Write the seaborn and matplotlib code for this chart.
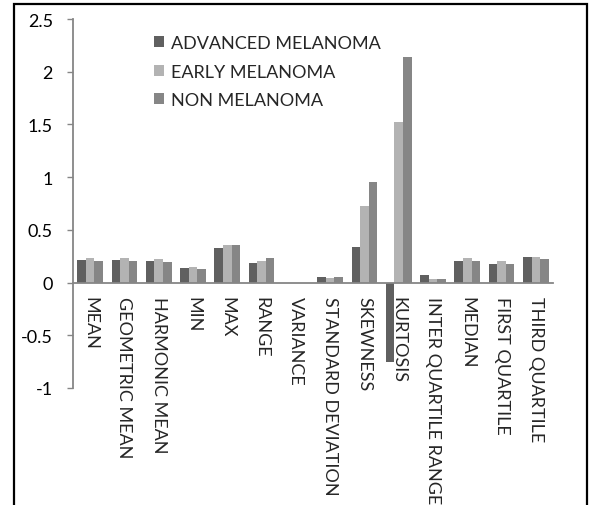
import matplotlib
matplotlib.use("Agg")
import matplotlib.pyplot as plt
import seaborn as sns
import pandas as pd
from matplotlib.patches import Rectangle

categories = ["MEAN", "GEOMETRIC MEAN", "HARMONIC MEAN", "MIN", "MAX", "RANGE",
              "VARIANCE", "STANDARD DEVIATION", "SKEWNESS", "KURTOSIS",
              "INTER QUARTILE RANGE", "MEDIAN", "FIRST QUARTILE", "THIRD QUARTILE"]
series_names = ["ADVANCED MELANOMA", "EARLY MELANOMA", "NON MELANOMA"]
advanced = [0.215, 0.21, 0.203, 0.139, 0.326, 0.184, 0.0, 0.057, 0.342, -0.75,
            0.07, 0.209, 0.174, 0.247]
early = [0.237, 0.232, 0.228, 0.149, 0.357, 0.209, 0.0, 0.046, 0.725, 1.519,
         0.037, 0.231, 0.209, 0.247]
non = [0.209, 0.203, 0.196, 0.127, 0.357, 0.237, 0.0, 0.051, 0.953, 2.14,
       0.037, 0.206, 0.18, 0.222]
y_ticks = [-1, -0.5, 0, 0.5, 1, 1.5, 2, 2.5]
y_tick_labels = ["-1", "-0.5", "0", "0.5", "1", "1.5", "2", "2.5"]
colors = ["#606060", "#b3b3b3", "#868686"]

rows = []
for name, vals in zip(series_names, [advanced, early, non]):
    for c, v in zip(categories, vals):
        rows.append({"category": c, "series": name, "value": v})
df = pd.DataFrame(rows)

sns.set_style("white")
plt.rcParams["font.family"] = ["Lato", "DejaVu Sans"]

W, H = 593, 506
fig = plt.figure(figsize=(W / 100, H / 100), dpi=100)
ax = fig.add_axes([73 / W, 1 - 389 / H, (553 - 73) / W, (389 - 20) / H])

sns.barplot(data=df, x="category", y="value", hue="series", order=categories,
            hue_order=series_names, palette=colors, width=0.75, gap=0,
            saturation=1, errorbar=None, ax=ax, linewidth=0)

ax.set_ylim(-1, 2.5)
ax.set_xlim(-0.5, len(categories) - 0.5)
ax.set_yticks(y_ticks)
ax.set_yticklabels(y_tick_labels, fontsize=13)
ax.set_xlabel("")
ax.set_ylabel("")

for s in ["top", "right"]:
    ax.spines[s].set_visible(False)
ax.spines["bottom"].set_position(("data", 0))
for s in ["left", "bottom"]:
    ax.spines[s].set_color("#868686")
    ax.spines[s].set_linewidth(1.3)

ax.tick_params(axis="y", which="major", direction="out", length=4.5, width=1,
               color="#868686", labelcolor="black", pad=10, left=True)
ax.tick_params(axis="x", which="major", length=0, pad=10)
ax.set_xticks(range(len(categories)))
ax.set_xticklabels(categories, rotation=-90, va="top", ha="center", fontsize=13)

leg = ax.legend(loc="upper left", bbox_to_anchor=(154 / W, 1 - 36 / H),
                bbox_transform=fig.transFigure, frameon=False, fontsize=13,
                handlelength=0.55, handleheight=0.55, handletextpad=0.4,
                labelspacing=0.7, borderaxespad=0, borderpad=0)

fig.patches.append(Rectangle((14 / W, -0.05), (587 - 14) / W, (1 - 5 / H) + 0.05,
                             transform=fig.transFigure, fill=False,
                             edgecolor="black", linewidth=1.6, clip_on=False))

fig.savefig("out.png", dpi=100)
